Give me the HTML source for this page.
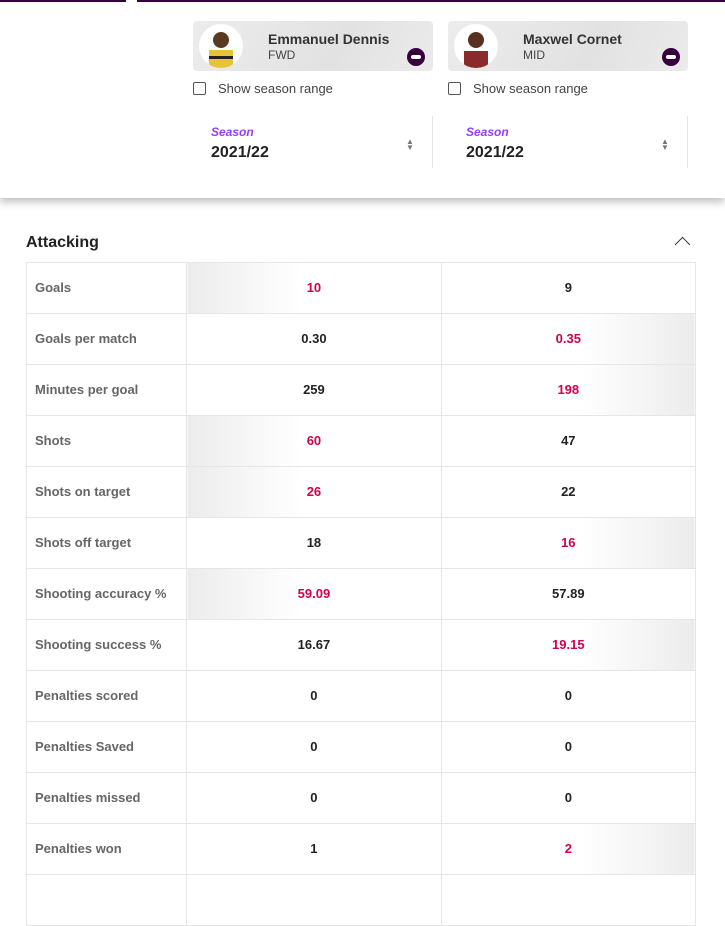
<!DOCTYPE html>
<html><head><meta charset="utf-8"><style>
*{box-sizing:border-box;margin:0;padding:0}
body{width:725px;height:878px;overflow:hidden;background:#fff;font-family:"Liberation Sans",sans-serif;position:relative;color:#222}
.topl{position:absolute;top:0;height:2px;background:#37003c}
.hdr{position:absolute;left:0;top:0;width:725px;height:198px;background:#fff;box-shadow:0 4px 8px rgba(0,0,0,.25)}
.card{position:absolute;top:21px;width:240px;height:50px;border-radius:4px;background:linear-gradient(120deg,#ececec,#e2e2e2 60%,#ebebeb)}
.av{position:absolute;left:6px;top:3px;width:44px;height:44px;border-radius:50%;background:#fff;overflow:hidden}
.nm{position:absolute;left:75px;top:10px;font-size:14px;font-weight:bold;color:#333}
.ps{position:absolute;left:75px;top:27px;font-size:12px;color:#444}
.mn{position:absolute;left:214px;top:27px;width:18px;height:18px;border-radius:50%;background:#37003c}
.mn:after{content:"";position:absolute;left:4px;top:7px;width:10px;height:4px;background:#fff;border-radius:2px}
.cb{position:absolute;top:82px;width:13px;height:13px;border:1px solid #555;border-radius:2px}
.cbt{position:absolute;top:81px;font-size:13px;color:#444}
.sl{position:absolute;top:125px;font-size:12px;font-style:italic;font-weight:bold;color:#963cff}
.sv{position:absolute;top:144px;font-size:16px;font-weight:bold;color:#222}
.ar{position:absolute;top:139px;font-size:8px;color:#777;line-height:6px}
.vs{position:absolute;top:116px;width:1px;height:52px;background:#e5e5e5}
.ttl{position:absolute;left:26px;top:234px;font-size:16px;font-weight:bold;color:#222}
.chev{position:absolute;left:677px;top:239px;width:11px;height:11px;border-left:1.5px solid #333;border-top:1.5px solid #333;transform:rotate(45deg)}
table{position:absolute;left:26px;top:262px;border-collapse:collapse;width:670px}
td{border:1px solid #e6e6e6;height:51px;font-size:13px;font-weight:bold;text-align:center;padding-bottom:2px}
td:first-child{width:160px;text-align:left;padding-left:8px;color:#666;font-size:13px}
td.c{width:254px}
.r{color:#d3004e}
.gl{background:linear-gradient(90deg,#ececec,#fff 45%)}
.gr{background:linear-gradient(270deg,#ececec,#fff 45%)}
</style></head><body>
<div class="hdr"></div>
<div class="topl" style="left:0;width:126px"></div>
<div class="topl" style="left:137px;width:588px"></div>

<div class="card" style="left:193px"><div class="av"><svg width="44" height="44"><rect x="10" y="26" width="24" height="18" fill="#e8c33a"/><rect x="10" y="32" width="24" height="3" fill="#222"/><circle cx="22" cy="16" r="8" fill="#5a3a22"/></svg></div><div class="nm">Emmanuel Dennis</div><div class="ps">FWD</div><div class="mn"></div></div>
<div class="card" style="left:448px"><div class="av"><svg width="44" height="44"><rect x="10" y="27" width="24" height="17" fill="#8a2a2a"/><circle cx="22" cy="16" r="8" fill="#5a3022"/></svg></div><div class="nm">Maxwel Cornet</div><div class="ps">MID</div><div class="mn"></div></div>

<div class="cb" style="left:193px"></div><div class="cbt" style="left:218px">Show season range</div>
<div class="cb" style="left:448px"></div><div class="cbt" style="left:473px">Show season range</div>

<div class="sl" style="left:211px">Season</div><div class="sv" style="left:211px">2021/22</div><div class="ar" style="left:406px">▲<br>▼</div>
<div class="vs" style="left:432px"></div>
<div class="sl" style="left:466px">Season</div><div class="sv" style="left:466px">2021/22</div><div class="ar" style="left:661px">▲<br>▼</div>
<div class="vs" style="left:687px"></div>

<div class="ttl">Attacking</div><div class="chev"></div>
<table>
<tr><td>Goals</td><td class="c gl r">10</td><td class="c">9</td></tr>
<tr><td>Goals per match</td><td class="c">0.30</td><td class="c gr r">0.35</td></tr>
<tr><td>Minutes per goal</td><td class="c">259</td><td class="c gr r">198</td></tr>
<tr><td>Shots</td><td class="c gl r">60</td><td class="c">47</td></tr>
<tr><td>Shots on target</td><td class="c gl r">26</td><td class="c">22</td></tr>
<tr><td>Shots off target</td><td class="c">18</td><td class="c gr r">16</td></tr>
<tr><td>Shooting accuracy %</td><td class="c gl r">59.09</td><td class="c">57.89</td></tr>
<tr><td>Shooting success %</td><td class="c">16.67</td><td class="c gr r">19.15</td></tr>
<tr><td>Penalties scored</td><td class="c">0</td><td class="c">0</td></tr>
<tr><td>Penalties Saved</td><td class="c">0</td><td class="c">0</td></tr>
<tr><td>Penalties missed</td><td class="c">0</td><td class="c">0</td></tr>
<tr><td>Penalties won</td><td class="c">1</td><td class="c gr r">2</td></tr>
<tr><td></td><td class="c"></td><td class="c"></td></tr>
</table>
</body></html>
